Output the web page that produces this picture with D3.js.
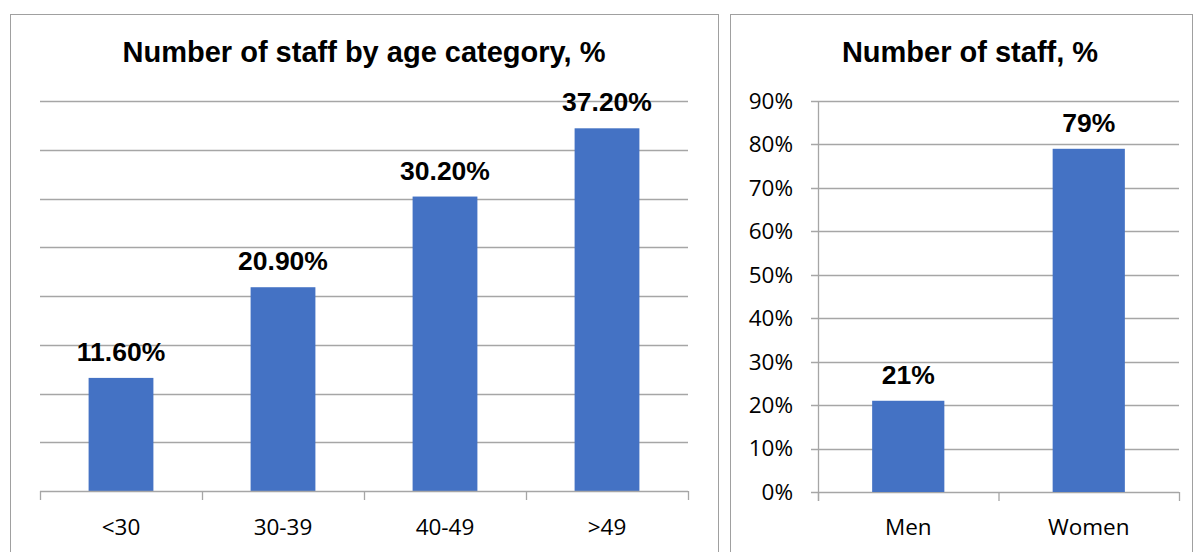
<!DOCTYPE html>
<html>
<head>
<meta charset="utf-8">
<script src="https://cdn.jsdelivr.net/npm/d3@7"></script>
<style>
  html, body { margin: 0; padding: 0; background: #fff; }
  svg { display: block; }
</style>
</head>
<body>
<svg id="chart" width="1195" height="552"></svg>
<script>
// ---- Data ----
const ageCategories = ["<30", "30-39", "40-49", ">49"];
const ageValues = [11.6, 20.9, 30.2, 37.2];
const ageLabels = ["11.60%", "20.90%", "30.20%", "37.20%"];
const ageTicks = [0, 5, 10, 15, 20, 25, 30, 35, 40];

const genderCategories = ["Men", "Women"];
const genderValues = [21, 79];
const genderLabels = ["21%", "79%"];
const genderTicks = [0, 10, 20, 30, 40, 50, 60, 70, 80, 90];

const titles = ["Number of staff by age category, %", "Number of staff, %"];

// ---- Style ----
const barColor = "#4472C4";
const gridColor = "#a6a6a6";
const borderColor = "#a0a0a0";
const titleFont = "'Liberation Sans', Arial, sans-serif";
const axisFont = "'Open Sans', Calibri, sans-serif";
const titleSize = 29;
const valueSize = 26.5;
const axisSize = 22.5;

const svg = d3.select("#chart");

// Panel borders
svg.append("rect").attr("x", 10.5).attr("y", 14.5).attr("width", 708).attr("height", 560)
  .attr("fill", "none").attr("stroke", borderColor).attr("stroke-width", 1);
svg.append("rect").attr("x", 730.5).attr("y", 14.5).attr("width", 462).attr("height", 560)
  .attr("fill", "none").attr("stroke", borderColor).attr("stroke-width", 1);

// ---- Left chart ----
(function () {
  const x = d3.scaleBand().domain(ageCategories).range([40, 688]).paddingInner(0.6).paddingOuter(0.3);
  const y = d3.scaleLinear().domain([0, 40]).range([491, 101]);
  const g = svg.append("g");

  g.selectAll("line.grid").data(ageTicks.filter(d => d > 0)).join("line")
    .attr("x1", x.range()[0]).attr("x2", x.range()[1])
    .attr("y1", d => Math.round(y(d)) + 0.5).attr("y2", d => Math.round(y(d)) + 0.5)
    .attr("stroke", gridColor).attr("stroke-width", 1.3);

  g.selectAll("rect.bar").data(ageValues).join("rect")
    .attr("x", (d, i) => x(ageCategories[i]))
    .attr("width", x.bandwidth())
    .attr("y", d => y(d))
    .attr("height", d => y(0) - y(d))
    .attr("fill", barColor);

  g.append("line").attr("x1", x.range()[0]).attr("x2", x.range()[1])
    .attr("y1", y(0) + 0.5).attr("y2", y(0) + 0.5).attr("stroke", gridColor).attr("stroke-width", 1.3);
  const bounds = d3.range(ageCategories.length + 1).map(i => x.range()[0] + i * x.step());
  g.selectAll("line.tk").data(bounds).join("line")
    .attr("x1", d => d + 0.5).attr("x2", d => d + 0.5)
    .attr("y1", y(0)).attr("y2", y(0) + 9)
    .attr("stroke", gridColor).attr("stroke-width", 1.3);

  g.selectAll("text.cat").data(ageCategories).join("text")
    .attr("x", d => x(d) + x.bandwidth() / 2).attr("y", 535)
    .attr("text-anchor", "middle").attr("font-family", axisFont).attr("font-size", axisSize)
    .attr("fill", "#000").text(d => d);

  g.selectAll("text.val").data(ageValues).join("text")
    .attr("x", (d, i) => x(ageCategories[i]) + x.bandwidth() / 2)
    .attr("y", d => y(d) - 17)
    .attr("text-anchor", "middle").attr("font-family", titleFont).attr("font-weight", "bold")
    .attr("font-size", valueSize).attr("fill", "#000").text((d, i) => ageLabels[i]);

  g.append("text").attr("x", 364).attr("y", 62).attr("text-anchor", "middle")
    .attr("font-family", titleFont).attr("font-weight", "bold").attr("font-size", titleSize)
    .attr("fill", "#000").text(titles[0]);
})();

// ---- Right chart ----
(function () {
  const x = d3.scaleBand().domain(genderCategories).range([818, 1179]).paddingInner(0.6).paddingOuter(0.3);
  const y = d3.scaleLinear().domain([0, 90]).range([492, 101]);
  const g = svg.append("g");

  g.selectAll("line.grid").data(genderTicks).join("line")
    .attr("x1", x.range()[0] - 7).attr("x2", x.range()[1])
    .attr("y1", d => Math.round(y(d)) + 0.5).attr("y2", d => Math.round(y(d)) + 0.5)
    .attr("stroke", gridColor).attr("stroke-width", 1.3);

  g.selectAll("rect.bar").data(genderValues).join("rect")
    .attr("x", (d, i) => x(genderCategories[i]))
    .attr("width", x.bandwidth())
    .attr("y", d => y(d))
    .attr("height", d => y(0) - y(d))
    .attr("fill", barColor);

  g.append("line").attr("x1", x.range()[0] + 0.5).attr("x2", x.range()[0] + 0.5)
    .attr("y1", y(90)).attr("y2", y(0) + 9).attr("stroke", gridColor).attr("stroke-width", 1.3);

  const bounds = d3.range(genderCategories.length + 1).map(i => x.range()[0] + i * x.step());
  g.selectAll("line.tk").data(bounds).join("line")
    .attr("x1", d => d + 0.5).attr("x2", d => d + 0.5)
    .attr("y1", y(0)).attr("y2", y(0) + 9)
    .attr("stroke", gridColor).attr("stroke-width", 1.3);

  g.selectAll("text.ytk").data(genderTicks).join("text")
    .attr("x", 793).attr("y", d => y(d)).attr("dy", "0.35em")
    .attr("text-anchor", "end").attr("font-family", axisFont).attr("font-size", axisSize)
    .attr("fill", "#000").text(d => d + "%");

  g.selectAll("text.cat").data(genderCategories).join("text")
    .attr("x", d => x(d) + x.bandwidth() / 2).attr("y", 535)
    .attr("text-anchor", "middle").attr("font-family", axisFont).attr("font-size", axisSize)
    .attr("fill", "#000").text(d => d);

  g.selectAll("text.val").data(genderValues).join("text")
    .attr("x", (d, i) => x(genderCategories[i]) + x.bandwidth() / 2)
    .attr("y", d => y(d) - 17)
    .attr("text-anchor", "middle").attr("font-family", titleFont).attr("font-weight", "bold")
    .attr("font-size", valueSize).attr("fill", "#000").text((d, i) => genderLabels[i]);

  g.append("text").attr("x", 970).attr("y", 62).attr("text-anchor", "middle")
    .attr("font-family", titleFont).attr("font-weight", "bold").attr("font-size", titleSize)
    .attr("fill", "#000").text(titles[1]);
})();
</script>
</body>
</html>
